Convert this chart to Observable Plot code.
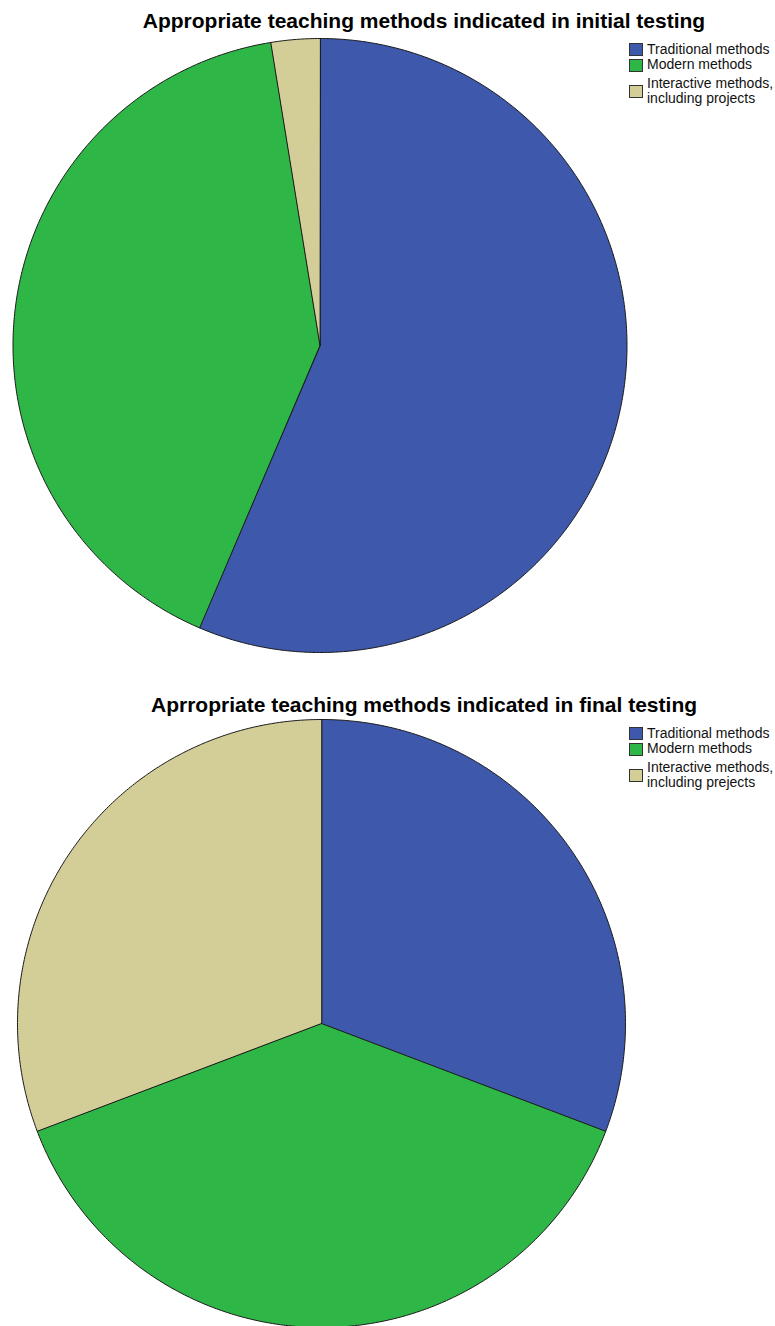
<!DOCTYPE html>
<html>
<head>
<meta charset="utf-8">
<script src="https://cdn.jsdelivr.net/npm/d3@7"></script>
<script src="https://cdn.jsdelivr.net/npm/@observablehq/plot@0.6"></script>
<style>
  html, body { margin: 0; padding: 0; background: #fff; }
  #page { position: relative; width: 775px; height: 1326px; overflow: hidden; font-family: "Liberation Sans", Arial, sans-serif; }
  .title { position: absolute; left: 0; width: 848px; text-align: center; font-weight: bold; font-size: 21px; line-height: 24px; color: #000; white-space: nowrap; }
  .chart { position: absolute; left: 0; }
  .legend { position: absolute; left: 0; top: 0; }
  .sw { position: absolute; width: 12px; height: 11px; border: 1px solid #333; box-sizing: content-box; }
  .lt { position: absolute; font-size: 14px; line-height: 15px; color: #111; white-space: nowrap; }
</style>
</head>
<body>
<div id="page"></div>
<script>
// ---- data ----
const methods = ["Traditional methods", "Modern methods", "Interactive methods, including projects"];
const colors = ["#3E58AC", "#2EB646", "#D3CD98"];
const initialCounts = [22, 16, 1];
const finalCounts = [12, 15, 12];
const initialTitle = "Appropriate teaching methods indicated in initial testing";
const finalTitle = "Aprropriate teaching methods indicated in final testing";
const initialLegend = [["Traditional methods"], ["Modern methods"], ["Interactive methods,", "including projects"]];
const finalLegend = [["Traditional methods"], ["Modern methods"], ["Interactive methods,", "including prejects"]];

const page = document.getElementById("page");

function pie(counts, {cx, cy, r, width, height}) {
  const arcs = d3.pie().sort(null)(counts);
  const pts = [];
  arcs.forEach((a, i) => {
    const m = methods[i];
    if (a.endAngle - a.startAngle <= 0) return;
    pts.push({m, x: 0, y: 0});
    const n = Math.max(2, Math.ceil((a.endAngle - a.startAngle) / (Math.PI / 360)));
    for (let k = 0; k <= n; k++) {
      const t = a.startAngle + (a.endAngle - a.startAngle) * k / n;
      pts.push({m, x: Math.sin(t), y: Math.cos(t)});
    }
  });
  return Plot.plot({
    width, height, margin: 0,
    x: {domain: [-1, 1], range: [cx - r, cx + r], axis: null},
    y: {domain: [-1, 1], range: [cy + r, cy - r], axis: null},
    color: {domain: methods, range: colors},
    marks: [
      Plot.line(pts, {x: "x", y: "y", z: "m", fill: "m", stroke: "#1a1a1a", strokeWidth: 1, curve: "linear-closed", strokeLinejoin: "miter"})
    ]
  });
}

function section(top, title, counts, legend, svgTop, svgHeight, cx, cy, r) {
  const t = document.createElement("div");
  t.className = "title";
  t.style.top = top + "px";
  t.textContent = title;
  page.appendChild(t);

  const c = document.createElement("div");
  c.className = "chart";
  c.style.top = svgTop + "px";
  c.appendChild(pie(counts, {cx, cy: cy - svgTop, r, width: 775, height: svgHeight}));
  page.appendChild(c);

  // legend (offset relative to the title block)
  const off = top - 9;
  const swTops = [43, 59, 85];
  const baseTops = [42, 57, 76];
  legend.forEach((lines, i) => {
    const s = document.createElement("div");
    s.className = "sw";
    s.style.left = "629px";
    s.style.top = (swTops[i] + off) + "px";
    s.style.background = colors[i];
    page.appendChild(s);
    lines.forEach((ln, j) => {
      const d = document.createElement("div");
      d.className = "lt";
      d.style.left = "647px";
      d.style.top = (baseTops[i] + j * 15 + off) + "px";
      d.textContent = ln;
      page.appendChild(d);
    });
  });
}

section(9, initialTitle, initialCounts, initialLegend, 0, 663, 319.5, 345, 307);
section(693, finalTitle, finalCounts, finalLegend, 663, 663, 321, 1023, 304);
</script>
</body>
</html>
